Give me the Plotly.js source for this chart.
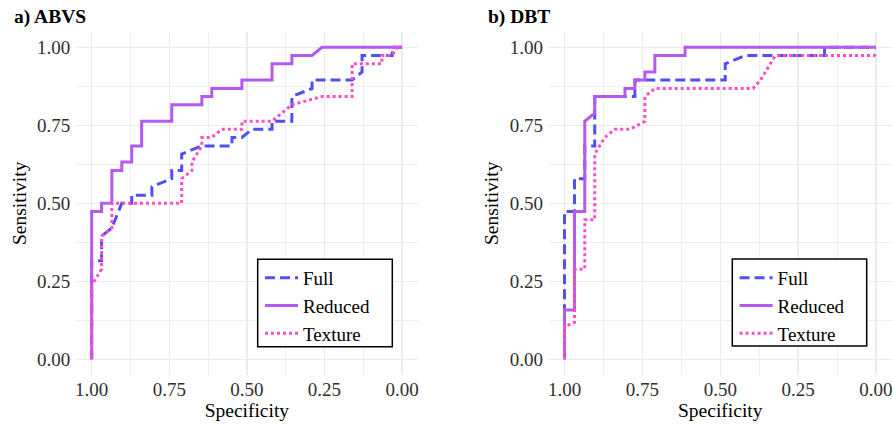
<!DOCTYPE html>
<html>
<head>
<meta charset="utf-8">
<script src="https://cdn.plot.ly/plotly-3.0.1.min.js"></script>
<style>
html,body{margin:0;padding:0;background:#ffffff;}
#chart{width:893px;height:424px;}
</style>
</head>
<body>
<div id="chart"></div>
<script>
// ---- data ----
const seriesNames = ["Full", "Reduced", "Texture"];
const panelTitles = ["a) ABVS", "b) DBT"];
const tickVals = [1, 0.75, 0.5, 0.25, 0];
const tickText = ["1.00", "0.75", "0.50", "0.25", "0.00"];

// Panel a) ABVS
const abvsFullSpec = [1, 1, 0.968, 0.968, 0.935, 0.903, 0.871, 0.871, 0.806, 0.806, 0.742, 0.742, 0.71, 0.71, 0.645, 0.548, 0.548, 0.516, 0.484, 0.419, 0.419, 0.355, 0.355, 0.29, 0.29, 0.161, 0.129, 0.129, 0.032, 0.032, 0];
const abvsFullSens = [0, 0.316, 0.316, 0.395, 0.421, 0.5, 0.5, 0.526, 0.526, 0.553, 0.579, 0.605, 0.605, 0.658, 0.684, 0.684, 0.711, 0.711, 0.737, 0.737, 0.763, 0.763, 0.842, 0.868, 0.895, 0.895, 0.921, 0.974, 0.974, 1, 1];

const abvsReducedSpec = [1, 1, 0.968, 0.968, 0.935, 0.935, 0.903, 0.903, 0.871, 0.871, 0.839, 0.839, 0.742, 0.742, 0.645, 0.645, 0.613, 0.613, 0.516, 0.516, 0.419, 0.419, 0.355, 0.355, 0.29, 0.258, 0];
const abvsReducedSens = [0, 0.474, 0.474, 0.5, 0.5, 0.605, 0.605, 0.632, 0.632, 0.684, 0.684, 0.763, 0.763, 0.816, 0.816, 0.842, 0.842, 0.868, 0.868, 0.895, 0.895, 0.947, 0.947, 0.974, 0.974, 1, 1];

const abvsTextureSpec = [1, 1, 0.968, 0.968, 0.935, 0.935, 0.71, 0.71, 0.677, 0.677, 0.645, 0.645, 0.613, 0.581, 0.516, 0.516, 0.419, 0.387, 0.355, 0.258, 0.161, 0.161, 0.065, 0.065, 0.032, 0.016, 0];
const abvsTextureSens = [0, 0.237, 0.289, 0.395, 0.421, 0.5, 0.5, 0.579, 0.605, 0.632, 0.684, 0.711, 0.711, 0.737, 0.737, 0.763, 0.763, 0.789, 0.816, 0.842, 0.842, 0.947, 0.947, 0.974, 0.974, 1, 1];

// Panel b) DBT
const dbtFullSpec = [1, 1, 0.968, 0.968, 0.935, 0.935, 0.903, 0.903, 0.774, 0.774, 0.484, 0.484, 0.419, 0.165, 0.165, 0];
const dbtFullSens = [0, 0.474, 0.474, 0.579, 0.579, 0.684, 0.684, 0.842, 0.842, 0.895, 0.895, 0.947, 0.974, 0.974, 1, 1];

const dbtReducedSpec = [1, 1, 0.968, 0.968, 0.935, 0.935, 0.903, 0.903, 0.806, 0.806, 0.774, 0.774, 0.742, 0.742, 0.71, 0.71, 0.613, 0.613, 0];
const dbtReducedSens = [0, 0.158, 0.158, 0.474, 0.474, 0.763, 0.789, 0.842, 0.842, 0.868, 0.868, 0.895, 0.895, 0.921, 0.921, 0.974, 0.974, 1, 1];

const dbtTextureSpec = [1, 1, 0.968, 0.968, 0.935, 0.935, 0.903, 0.903, 0.871, 0.839, 0.79, 0.742, 0.742, 0.71, 0.395, 0.371, 0.355, 0.323, 0.005, 0];
const dbtTextureSens = [0, 0.105, 0.118, 0.289, 0.289, 0.447, 0.447, 0.658, 0.711, 0.737, 0.737, 0.763, 0.842, 0.868, 0.868, 0.895, 0.921, 0.974, 0.974, 0.98];

// ---- styles ----
const FONT = "\"Liberation Serif\", \"Times New Roman\", Times, serif";
const colors = ["#5050F6", "#B45AF2", "#FF4DC2"];
const dashes = ["10px,5px", "solid", "3px,3px"];

const panels = [
  {spec: [abvsFullSpec, abvsReducedSpec, abvsTextureSpec], sens: [abvsFullSens, abvsReducedSens, abvsTextureSens], xa: "x", ya: "y", legend: "legend"},
  {spec: [dbtFullSpec, dbtReducedSpec, dbtTextureSpec], sens: [dbtFullSens, dbtReducedSens, dbtTextureSens], xa: "x2", ya: "y2", legend: "legend2"}
];

const traces = [];
panels.forEach(p => {
  seriesNames.forEach((name, i) => {
    traces.push({
      type: "scatter", mode: "lines",
      x: p.spec[i], y: p.sens[i],
      xaxis: p.xa, yaxis: p.ya,
      name: name, legend: p.legend,
      line: {color: colors[i], width: 3, dash: dashes[i], shape: "linear"},
      hoverinfo: "skip"
    });
  });
});

const W = 893, H = 424;
const gridCol = "#EBEBEB";
function xAxis(domain, anchor) {
  return {
    domain: domain, anchor: anchor, range: [1.05, -0.05], autorange: false,
    tickmode: "array", tickvals: tickVals, ticktext: tickText,
    showgrid: true, gridcolor: gridCol, gridwidth: 1.5, zeroline: false, showline: false,
    ticks: "", ticklabelstandoff: 1,
    minor: {dtick: 0.125, tick0: 0, showgrid: true, gridcolor: gridCol, gridwidth: 0.8, ticks: ""},
    tickfont: {family: FONT, size: 19, color: "#303030"},
    title: {text: "Specificity", font: {family: FONT, size: 19.5, color: "#000"}, standoff: 2},
    automargin: false
  };
}
function yAxis(domain, anchor) {
  return {
    domain: domain, anchor: anchor, range: [-0.05, 1.05], autorange: false,
    tickmode: "array", tickvals: tickVals, ticktext: tickText,
    showgrid: true, gridcolor: gridCol, gridwidth: 1.5, zeroline: false, showline: false,
    ticks: "", ticklabelstandoff: 5,
    minor: {dtick: 0.125, tick0: 0, showgrid: true, gridcolor: gridCol, gridwidth: 0.8, ticks: ""},
    tickfont: {family: FONT, size: 19, color: "#303030"},
    title: {text: "Sensitivity", font: {family: FONT, size: 19.5, color: "#000"}, standoff: 5},
    automargin: false
  };
}
const yDom = [1 - 374.9 / H, 1 - 31.7 / H];
function legendCfg(xpx) {
  return {
    x: xpx / W, y: 1 - 259 / H, xanchor: "left", yanchor: "top",
    bordercolor: "rgba(0,0,0,0)", borderwidth: 0, bgcolor: "rgba(0,0,0,0)",
    font: {family: FONT, size: 19, color: "#000"},
    tracegroupgap: 0, itemwidth: 33
  };
}
// legend frame boxes (pixel positions of the reference legend frames)
function frame(x0, x1, y0, y1) {
  return {type: "rect", xref: "paper", yref: "paper", layer: "above",
    x0: x0 / W, x1: x1 / W, y0: 1 - y1 / H, y1: 1 - y0 / H,
    fillcolor: "#fff", line: {color: "#000", width: 1.5}};
}

const layout = {
  width: W, height: H,
  margin: {l: 0, r: 0, t: 0, b: 0},
  paper_bgcolor: "#fff", plot_bgcolor: "#fff",
  showlegend: true,
  xaxis: xAxis([76.15 / W, 417.6 / W], "y"),
  yaxis: yAxis(yDom, "x"),
  xaxis2: xAxis([548.95 / W, 891.55 / W], "y2"),
  yaxis2: yAxis(yDom, "x2"),
  legend: legendCfg(260),
  legend2: legendCfg(734.6),
  shapes: [frame(257.7, 392.3, 259.3, 346.7), frame(732.3, 866.7, 259, 346)],
  annotations: [
    {text: "<b>" + panelTitles[0] + "</b>", xref: "paper", yref: "paper", x: 12 / W, y: 1 - 17.5 / H, xanchor: "left", yanchor: "middle", showarrow: false, font: {family: FONT, size: 19.5, color: "#000"}},
    {text: "<b>" + panelTitles[1] + "</b>", xref: "paper", yref: "paper", x: 486 / W, y: 1 - 17.5 / H, xanchor: "left", yanchor: "middle", showarrow: false, font: {family: FONT, size: 19.5, color: "#000"}}
  ]
};

Plotly.newPlot("chart", traces, layout, {staticPlot: true, displayModeBar: false});
</script>
</body>
</html>
